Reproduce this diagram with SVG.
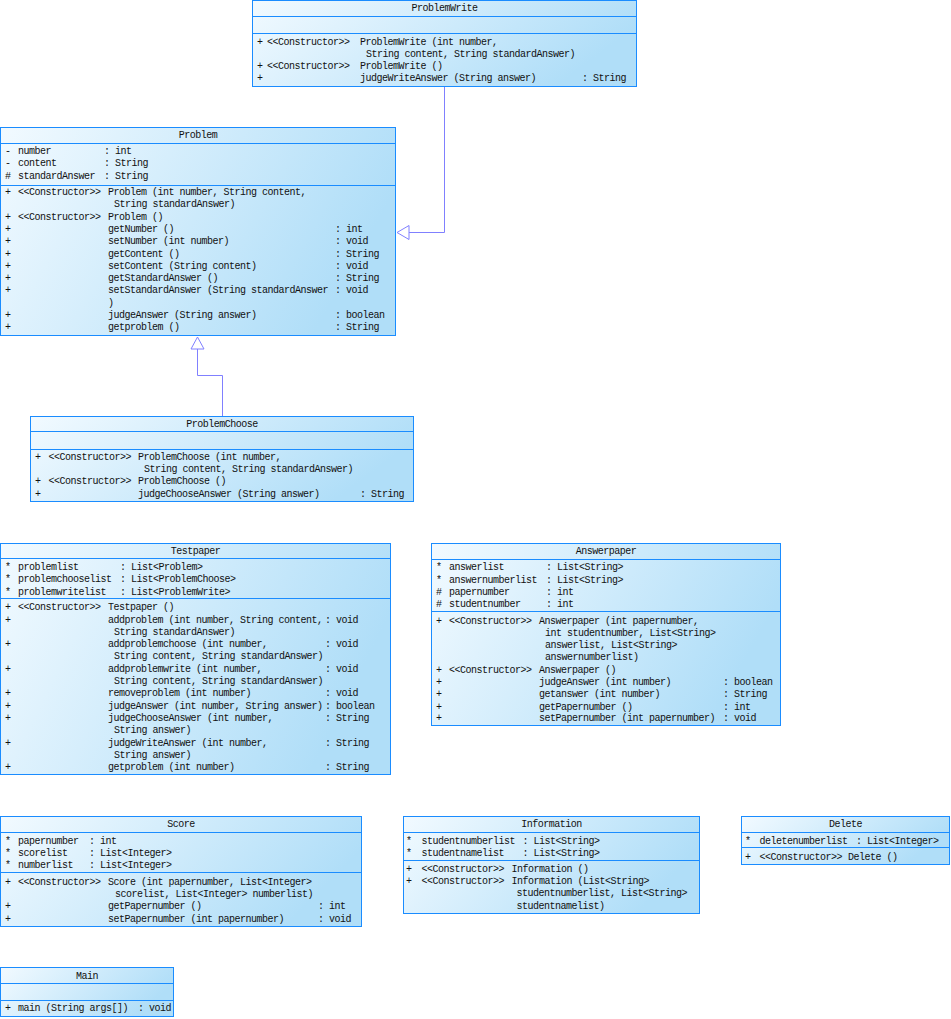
<svg xmlns="http://www.w3.org/2000/svg" width="951" height="1019" viewBox="0 0 951 1019">
<defs>
<linearGradient id="g" x1="0" y1="0" x2="1" y2="0.3">
<stop offset="0" stop-color="#f2faff"/>
<stop offset="1" stop-color="#b0def8"/>
</linearGradient>
<style>
.box{fill:url(#g);stroke:#1a8cff;stroke-width:1}
.sep{stroke:#1a8cff;stroke-width:1}
text{font-family:"Liberation Mono",monospace;font-size:10px;letter-spacing:-0.5px;fill:#111}
.ti{text-anchor:middle}
.con{fill:none;stroke:#8080ff;stroke-width:1}
.head{fill:#fff;stroke:#8080ff;stroke-width:1}
</style>
</defs>
<rect width="951" height="1019" fill="#fff"/>

<g id="connectors">
<path class="con" d="M444.5 87 V232.5 H409"/>
<polygon class="head" points="397,232.5 409,225.5 409,239.5"/>
<path class="con" d="M222.5 416 V375.5 H197.5 V349"/>
<polygon class="head" points="197.5,337 191,349 204,349"/>
</g>

<g id="ProblemWrite">
<rect class="box" x="252.5" y="0.5" width="384" height="86"/>
<line class="sep" x1="252.5" y1="16.5" x2="636.5" y2="16.5"/>
<line class="sep" x1="252.5" y1="33.5" x2="636.5" y2="33.5"/>
<text class="ti" x="444.5" y="11">ProblemWrite</text>
<text x="257" y="44.5">+</text><text x="267" y="44.5">&lt;&lt;Constructor&gt;&gt;</text><text x="360" y="44.5">ProblemWrite (int number,</text>
<text x="366" y="56.5">String content, String standardAnswer)</text>
<text x="257" y="68.5">+</text><text x="267" y="68.5">&lt;&lt;Constructor&gt;&gt;</text><text x="360" y="68.5">ProblemWrite ()</text>
<text x="257" y="81">+</text><text x="360" y="81">judgeWriteAnswer (String answer)</text><text x="582" y="81">: String</text>
</g>

<g id="Problem">
<rect class="box" x="0.5" y="127.5" width="395" height="208"/>
<line class="sep" x1="0.5" y1="143.5" x2="395.5" y2="143.5"/>
<line class="sep" x1="0.5" y1="185.5" x2="395.5" y2="185.5"/>
<text class="ti" x="198" y="138">Problem</text>
<text x="5" y="153.5">-</text><text x="18" y="153.5">number</text><text x="104" y="153.5">: int</text>
<text x="5" y="166">-</text><text x="18" y="166">content</text><text x="104" y="166">: String</text>
<text x="5" y="178.5">#</text><text x="18" y="178.5">standardAnswer</text><text x="104" y="178.5">: String</text>
<text x="5" y="195">+</text><text x="18" y="195">&lt;&lt;Constructor&gt;&gt;</text><text x="108" y="195">Problem (int number, String content,</text>
<text x="114" y="207.3">String standardAnswer)</text>
<text x="5" y="219.6">+</text><text x="18" y="219.6">&lt;&lt;Constructor&gt;&gt;</text><text x="108" y="219.6">Problem ()</text>
<text x="5" y="231.9">+</text><text x="108" y="231.9">getNumber ()</text><text x="335" y="231.9">: int</text>
<text x="5" y="244.2">+</text><text x="108" y="244.2">setNumber (int number)</text><text x="335" y="244.2">: void</text>
<text x="5" y="256.5">+</text><text x="108" y="256.5">getContent ()</text><text x="335" y="256.5">: String</text>
<text x="5" y="268.8">+</text><text x="108" y="268.8">setContent (String content)</text><text x="335" y="268.8">: void</text>
<text x="5" y="281.1">+</text><text x="108" y="281.1">getStandardAnswer ()</text><text x="335" y="281.1">: String</text>
<text x="5" y="293.4">+</text><text x="108" y="293.4">setStandardAnswer (String standardAnswer</text><text x="335" y="293.4">: void</text>
<text x="108" y="305.7">)</text>
<text x="5" y="318">+</text><text x="108" y="318">judgeAnswer (String answer)</text><text x="335" y="318">: boolean</text>
<text x="5" y="330.3">+</text><text x="108" y="330.3">getproblem ()</text><text x="335" y="330.3">: String</text>
</g>

<g id="ProblemChoose">
<rect class="box" x="30.5" y="416.5" width="383" height="85"/>
<line class="sep" x1="30.5" y1="431.5" x2="413.5" y2="431.5"/>
<line class="sep" x1="30.5" y1="449.5" x2="413.5" y2="449.5"/>
<text class="ti" x="222" y="427">ProblemChoose</text>
<text x="35" y="460">+</text><text x="48.5" y="460">&lt;&lt;Constructor&gt;&gt;</text><text x="138" y="460">ProblemChoose (int number,</text>
<text x="144" y="472">String content, String standardAnswer)</text>
<text x="35" y="484">+</text><text x="48.5" y="484">&lt;&lt;Constructor&gt;&gt;</text><text x="138" y="484">ProblemChoose ()</text>
<text x="35" y="496.5">+</text><text x="138" y="496.5">judgeChooseAnswer (String answer)</text><text x="360" y="496.5">: String</text>
</g>

<g id="Testpaper">
<rect class="box" x="0.5" y="543.5" width="390" height="231"/>
<line class="sep" x1="0.5" y1="558.5" x2="390.5" y2="558.5"/>
<line class="sep" x1="0.5" y1="598.5" x2="390.5" y2="598.5"/>
<text class="ti" x="195.5" y="554">Testpaper</text>
<text x="5" y="570">*</text><text x="18" y="570">problemlist</text><text x="120" y="570">: List&lt;Problem&gt;</text>
<text x="5" y="582.3">*</text><text x="18" y="582.3">problemchooselist</text><text x="120" y="582.3">: List&lt;ProblemChoose&gt;</text>
<text x="5" y="594.6">*</text><text x="18" y="594.6">problemwritelist</text><text x="120" y="594.6">: List&lt;ProblemWrite&gt;</text>
<text x="5" y="610.2">+</text><text x="18" y="610.2">&lt;&lt;Constructor&gt;&gt;</text><text x="108" y="610.2">Testpaper ()</text>
<text x="5" y="622.5">+</text><text x="108" y="622.5">addproblem (int number, String content,</text><text x="325" y="622.5">: void</text>
<text x="114" y="634.8">String standardAnswer)</text>
<text x="5" y="647.1">+</text><text x="108" y="647.1">addproblemchoose (int number,</text><text x="325" y="647.1">: void</text>
<text x="114" y="659.4">String content, String standardAnswer)</text>
<text x="5" y="671.7">+</text><text x="108" y="671.7">addproblemwrite (int number,</text><text x="325" y="671.7">: void</text>
<text x="114" y="684">String content, String standardAnswer)</text>
<text x="5" y="696.3">+</text><text x="108" y="696.3">removeproblem (int number)</text><text x="325" y="696.3">: void</text>
<text x="5" y="708.6">+</text><text x="108" y="708.6">judgeAnswer (int number, String answer)</text><text x="325" y="708.6">: boolean</text>
<text x="5" y="720.9">+</text><text x="108" y="720.9">judgeChooseAnswer (int number,</text><text x="325" y="720.9">: String</text>
<text x="114" y="733.2">String answer)</text>
<text x="5" y="745.5">+</text><text x="108" y="745.5">judgeWriteAnswer (int number,</text><text x="325" y="745.5">: String</text>
<text x="114" y="757.8">String answer)</text>
<text x="5" y="770.1">+</text><text x="108" y="770.1">getproblem (int number)</text><text x="325" y="770.1">: String</text>
</g>

<g id="Answerpaper">
<rect class="box" x="431.5" y="543.5" width="349" height="182"/>
<line class="sep" x1="431.5" y1="559.5" x2="780.5" y2="559.5"/>
<line class="sep" x1="431.5" y1="611.5" x2="780.5" y2="611.5"/>
<text class="ti" x="606" y="554">Answerpaper</text>
<text x="436" y="570.2">*</text><text x="449" y="570.2">answerlist</text><text x="546" y="570.2">: List&lt;String&gt;</text>
<text x="436" y="582.5">*</text><text x="449" y="582.5">answernumberlist</text><text x="546" y="582.5">: List&lt;String&gt;</text>
<text x="436" y="594.8">#</text><text x="449" y="594.8">papernumber</text><text x="546" y="594.8">: int</text>
<text x="436" y="607.1">#</text><text x="449" y="607.1">studentnumber</text><text x="546" y="607.1">: int</text>
<text x="436" y="623.5">+</text><text x="449" y="623.5">&lt;&lt;Constructor&gt;&gt;</text><text x="539" y="623.5">Answerpaper (int papernumber,</text>
<text x="545" y="635.8">int studentnumber, List&lt;String&gt;</text>
<text x="545" y="648.1">answerlist, List&lt;String&gt;</text>
<text x="545" y="660.4">answernumberlist)</text>
<text x="436" y="672.7">+</text><text x="449" y="672.7">&lt;&lt;Constructor&gt;&gt;</text><text x="539" y="672.7">Answerpaper ()</text>
<text x="436" y="685">+</text><text x="539" y="685">judgeAnswer (int number)</text><text x="723" y="685">: boolean</text>
<text x="436" y="697.3">+</text><text x="539" y="697.3">getanswer (int number)</text><text x="723" y="697.3">: String</text>
<text x="436" y="709.6">+</text><text x="539" y="709.6">getPapernumber ()</text><text x="723" y="709.6">: int</text>
<text x="436" y="721.4">+</text><text x="539" y="721.4">setPapernumber (int papernumber)</text><text x="723" y="721.4">: void</text>
</g>

<g id="Score">
<rect class="box" x="0.5" y="816.5" width="361" height="110"/>
<line class="sep" x1="0.5" y1="832.5" x2="361.5" y2="832.5"/>
<line class="sep" x1="0.5" y1="872.5" x2="361.5" y2="872.5"/>
<text class="ti" x="181" y="827">Score</text>
<text x="5" y="843.5">*</text><text x="18" y="843.5">papernumber</text><text x="89" y="843.5">: int</text>
<text x="5" y="855.8">*</text><text x="18" y="855.8">scorelist</text><text x="89" y="855.8">: List&lt;Integer&gt;</text>
<text x="5" y="868.1">*</text><text x="18" y="868.1">numberlist</text><text x="89" y="868.1">: List&lt;Integer&gt;</text>
<text x="5" y="884.8">+</text><text x="18" y="884.8">&lt;&lt;Constructor&gt;&gt;</text><text x="108" y="884.8">Score (int papernumber, List&lt;Integer&gt;</text>
<text x="115" y="896.5">scorelist, List&lt;Integer&gt; numberlist)</text>
<text x="5" y="909.4">+</text><text x="108" y="909.4">getPapernumber ()</text><text x="318" y="909.4">: int</text>
<text x="5" y="921.7">+</text><text x="108" y="921.7">setPapernumber (int papernumber)</text><text x="318" y="921.7">: void</text>
</g>

<g id="Information">
<rect class="box" x="403.5" y="816.5" width="296" height="97"/>
<line class="sep" x1="403.5" y1="832.5" x2="699.5" y2="832.5"/>
<line class="sep" x1="403.5" y1="860.5" x2="699.5" y2="860.5"/>
<text class="ti" x="551.5" y="827">Information</text>
<text x="406" y="843.5">*</text><text x="421.5" y="843.5">studentnumberlist</text><text x="522.5" y="843.5">: List&lt;String&gt;</text>
<text x="406" y="856">*</text><text x="421.5" y="856">studentnamelist</text><text x="522.5" y="856">: List&lt;String&gt;</text>
<text x="406" y="871.5">+</text><text x="421.5" y="871.5">&lt;&lt;Constructor&gt;&gt;</text><text x="511.5" y="871.5">Information ()</text>
<text x="406" y="884">+</text><text x="421.5" y="884">&lt;&lt;Constructor&gt;&gt;</text><text x="511.5" y="884">Information (List&lt;String&gt;</text>
<text x="516.5" y="896.3">studentnumberlist, List&lt;String&gt;</text>
<text x="516.5" y="908.6">studentnamelist)</text>
</g>

<g id="Delete">
<rect class="box" x="741.5" y="816.5" width="208" height="48"/>
<line class="sep" x1="741.5" y1="832.5" x2="949.5" y2="832.5"/>
<line class="sep" x1="741.5" y1="847.5" x2="949.5" y2="847.5"/>
<text class="ti" x="845.5" y="827">Delete</text>
<text x="745" y="843.5">*</text><text x="759.5" y="843.5">deletenumberlist</text><text x="856" y="843.5">: List&lt;Integer&gt;</text>
<text x="745" y="859.5">+</text><text x="759.5" y="859.5">&lt;&lt;Constructor&gt;&gt;</text><text x="848" y="859.5">Delete ()</text>
</g>

<g id="Main">
<rect class="box" x="0.5" y="967.5" width="173" height="49"/>
<line class="sep" x1="0.5" y1="983.5" x2="173.5" y2="983.5"/>
<line class="sep" x1="0.5" y1="1000.5" x2="173.5" y2="1000.5"/>
<text class="ti" x="87" y="979">Main</text>
<text x="5" y="1010.5">+</text><text x="18" y="1010.5">main (String args[])</text><text x="138" y="1010.5">: void</text>
</g>
</svg>
